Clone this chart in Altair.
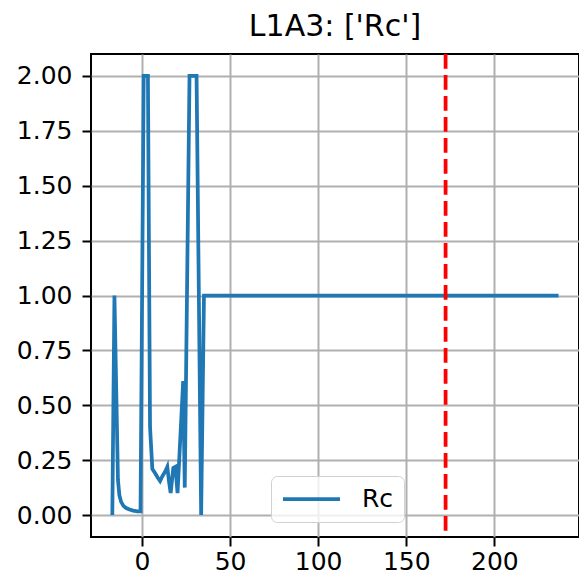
import altair as alt
import pandas as pd

# ---- data ----
x_vals = [-16.8, -15.6, -13.6, -12.8, -11.8, -10.5, -9.0, -7.0, -5.0, -2.5, -0.8,
          1.0, 3.4, 4.6, 5.9, 7.5, 9.0, 10.3, 11.2, 12.2, 13.3, 14.4, 15.4, 16.3,
          17.8, 19.0, 20.2, 23.4, 24.3, 27.0, 31.0, 33.6, 35.2, 236.4]
y_vals = [0.0, 1.0, 0.16, 0.09, 0.06, 0.042, 0.032, 0.025, 0.02, 0.017, 0.017,
          2.0, 2.0, 0.4, 0.21, 0.19, 0.17, 0.155, 0.17, 0.185, 0.2, 0.22, 0.15, 0.10,
          0.215, 0.22, 0.10, 0.61, 0.125, 2.0, 2.0, 0.0, 1.0, 1.0]
vline_x = [172.3]
series_name = "Rc"
title_text = "L1A3: ['Rc']"
x_ticks = [0, 50, 100, 150, 200]
y_ticks = [0.0, 0.25, 0.5, 0.75, 1.0, 1.25, 1.5, 1.75, 2.0]

df = pd.DataFrame({"x": x_vals, "y": y_vals, "series": series_name,
                   "order": list(range(len(x_vals)))})
vdf = pd.DataFrame({"x": vline_x})

FONT = "DejaVu Sans"
xscale = alt.Scale(domain=[-28.9, 248.0], nice=False, zero=False)
yscale = alt.Scale(domain=[-0.1, 2.1], nice=False, zero=False)

line = alt.Chart(df).mark_line(strokeWidth=3.75, clip=True).encode(
    x=alt.X("x:Q", scale=xscale,
            axis=alt.Axis(values=x_ticks, title=None, format="d", labelPadding=3)),
    y=alt.Y("y:Q", scale=yscale,
            axis=alt.Axis(values=y_ticks, title=None, format=".2f", labelPadding=10)),
    color=alt.Color("series:N", scale=alt.Scale(range=["#1f77b4"]),
                    legend=alt.Legend(title=None, orient="none", legendX=180, legendY=422,
                                      symbolType="stroke", symbolSize=3249,
                                      symbolStrokeWidth=3.75, labelFontSize=25,
                                      labelFont=FONT, labelColor="black",
                                      labelOffset=20, padding=10,
                                      strokeColor="#d0d0d0", fillColor="rgba(255,255,255,0.8)",
                                      cornerRadius=6, clipHeight=26)),
    order="order:Q",
)

rule = alt.Chart(vdf).mark_rule(color="#ff0000", strokeWidth=3.75,
                                strokeDash=[14.7, 6.3]).encode(x=alt.X("x:Q", scale=xscale))

chart = alt.layer(line, rule).properties(
    width=488, height=483,
    title=alt.Title(title_text, font=FONT, fontSize=30, fontWeight="normal",
                    color="black", anchor="middle", offset=16, baseline="alphabetic", dy=30),
    autosize=alt.AutoSizeParams(type="none"),
    padding={"left": 83, "top": 46, "right": 0, "bottom": 40},
).configure_view(
    stroke="black", strokeWidth=2
).configure_axis(
    labelFont=FONT, labelFontSize=25, labelColor="black",
    tickColor="black", tickWidth=2, tickSize=9,
    domain=False, grid=True, gridColor="#b0b0b0", gridWidth=2,
)

chart.save("out.html", embed_options={"renderer": "svg", "actions": False})
